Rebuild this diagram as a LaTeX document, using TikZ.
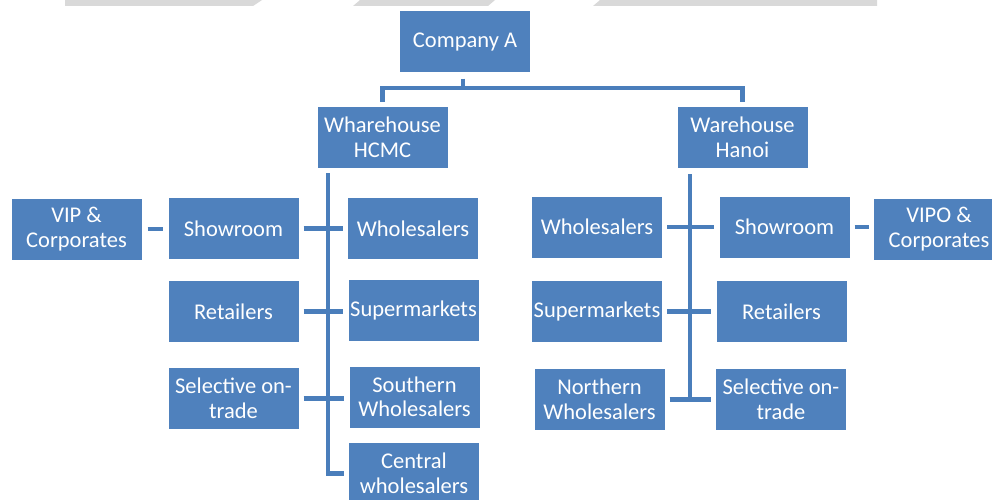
\documentclass[tikz,border=0pt]{standalone}
\usepackage{fontspec}
\setmainfont{Carlito}
\definecolor{boxblue}{HTML}{4F81BD}
\definecolor{lineblue}{HTML}{4A7EBB}
\definecolor{stripegray}{HTML}{D9D9D9}

\begin{document}
\begin{tikzpicture}[x=1pt,y=-1pt,
                    box/.style={fill=boxblue,text=white,minimum width=130pt,minimum height=61pt,
                                inner sep=0pt,align=center,font=\fontsize{22.5}{24.5}\selectfont},
                    link/.style={draw=lineblue,line width=4.5pt},
                    gap/.style={shorten <=5pt,shorten >=5pt}]
    \useasboundingbox (0,0) rectangle (992,500);
    % grey bands on the top edge
    \fill[stripegray] (65,0) -- (262,0) -- (253,6) -- (65,6) -- cycle;
    \fill[stripegray] (360,0) -- (495,0) -- (488,6) -- (353,6) -- cycle;
    \fill[stripegray] (600,0) -- (877,0) -- (877,6) -- (593,6) -- cycle;

    \node[box] (compA) at (465,42) {Company A};
    \node[box] (hcmc)  at (382.5,137.5) {Wharehouse\\HCMC};
    \node[box] (hanoi) at (742.5,137.5) {Warehouse\\Hanoi};

    % HCMC side
    \node[box] (vip)    at (76.5,229)  {VIP \&\\Corporates};
    \node[box] (showL)  at (233.5,228.5) {Showroom};
    \node[box] (retL)   at (233.5,311.5) {Retailers};
    \node[box] (selL)   at (233.5,398.5) {Selective on-\\trade};
    \node[box] (whlH)   at (413,228.5) {Wholesalers};
    \node[box] (supH)   at (413.5,310) {Supermarkets};
    \node[box] (southH) at (414.5,397) {Southern\\Wholesalers};
    \node[box] (centH)  at (414,473.5) {Central\\wholesalers};

    % Hanoi side
    \node[box] (whlN)   at (597,227)   {Wholesalers};
    \node[box] (supN)   at (597,311.5) {Supermarkets};
    \node[box] (northN) at (599.5,399.5) {Northern\\Wholesalers};
    \node[box] (showN)  at (784.5,227) {Showroom};
    \node[box] (retN)   at (781.5,311.5) {Retailers};
    \node[box] (selN)   at (781,399.5) {Selective on-\\trade};
    \node[box] (vipo)   at (939,229)   {VIPO \&\\Corporates};

    % top bracket
    \coordinate (bar) at (463,88);
    \draw[link,shorten <=6pt] (compA.south -| bar) -- (bar);
    \draw[link,gap] (hcmc.north) |- (bar) -| (hanoi.north);

    % trunks
    \coordinate (trunkH) at (328,168);
    \coordinate (trunkN) at (690,168);
    \draw[link,gap] (trunkH) |- (centH.west);
    \draw[link,shorten <=6pt] (trunkN) -- (trunkN |- northN.east);

    % branches
    \draw[link,gap] (showL.east) -- (showL.east -| whlH.west);
    \draw[link,gap] (retL.east) -- (retL.east -| supH.west);
    \draw[link,gap] (selL.east) -- (selL.east -| southH.west);
    \draw[link,gap] (whlN.east) -- (whlN.east -| showN.west);
    \draw[link,gap] (supN.east) -- (supN.east -| retN.west);
    \draw[link,gap] (northN.east) -- (northN.east -| selN.west);
    \draw[link,shorten <=6pt,shorten >=5pt] (vip.east) -- (vip.east -| showL.west);
    \draw[link,gap] (showN.east) -- (showN.east -| vipo.west);
\end{tikzpicture}
\end{document}
